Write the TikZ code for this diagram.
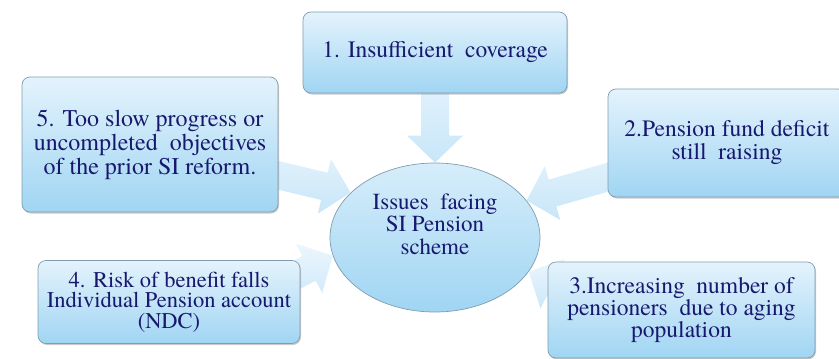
\documentclass[tikz,border=0pt]{standalone}
\usepackage{fontspec}
\setmainfont{TeX Gyre Termes}
\usetikzlibrary{calc,shapes.geometric,shadows}
\pgfdeclarelayer{back}
\pgfdeclarelayer{mid}
\pgfsetlayers{back,mid,main}
\definecolor{txtblue}{RGB}{24,24,110}
\definecolor{boxline}{RGB}{128,156,176}
\definecolor{boxtop}{RGB}{228,243,252}
\definecolor{boxbot}{RGB}{160,213,243}
\definecolor{arrtop}{RGB}{236,246,253}
\definecolor{arrbot}{RGB}{200,230,248}
\tikzset{
  issuebox/.style={draw=boxline, line width=0.7pt, rounded corners=8pt,
    top color=boxtop, bottom color=boxbot, align=center, text=txtblue,
    inner sep=0pt,
    drop shadow={shadow xshift=1pt, shadow yshift=-1.5pt, opacity=0.45, fill=black!45}},
  arrowfill/.style={top color=arrtop, bottom color=arrbot, draw=none}
}
% block arrow from #1 to the tip #2
\newcommand{\issuearrow}[2]{%
  \coordinate (hb) at ($(#2)!27pt!(#1)$);
  \shade[arrowfill] ($(#1)!14pt!90:(#2)$) -- ($(hb)!14pt!90:(#2)$) -- ($(hb)!28pt!90:(#2)$)
    -- (#2) -- ($(hb)!28pt!-90:(#2)$) -- ($(hb)!14pt!-90:(#2)$) -- ($(#1)!14pt!-90:(#2)$) -- cycle;}

\begin{document}
\begin{tikzpicture}[x=1pt, y=-1pt, font={\rmfamily\fontsize{23.5}{24}\selectfont}]

	\useasboundingbox (0,0) rectangle (839,359);

	\begin{pgfonlayer}{back}
		\node[ellipse, draw=boxline, line width=0.7pt, top color=boxtop!80!boxbot, bottom color=boxbot,
			minimum width=210pt, minimum height=149pt, inner sep=0pt] (issue) at (435,237.5) {};
	\end{pgfonlayer}
	\node[text=txtblue, align=center, font={\rmfamily\fontsize{23}{22.5}\selectfont}] (issuetext) at (435,224) {Issues\ \ facing\\SI Pension\\scheme};

	\node[issuebox, minimum width=264pt, minimum height=81pt] (coverage) at (435,52.5) {1. Insufficient\ \ coverage};
	\node[issuebox, minimum width=256pt, minimum height=135pt, font={\rmfamily\fontsize{24}{24}\selectfont}] (progress) at (150,144.5)
		{5. Too slow progress or\\uncompleted\ \ objectives\\of the prior SI reform.};
	\node[issuebox, minimum width=238pt, minimum height=108pt, font={\rmfamily\fontsize{23.5}{23}\selectfont}] (deficit) at (727,143)
		{2.Pension fund deficit\\still\ \ raising};
	\node[issuebox, minimum width=262pt, minimum height=83pt, font={\rmfamily\fontsize{22.5}{20.5}\selectfont}] (ndc) at (169,302)
		{4. Risk of benefit falls\\Individual Pension account\\(NDC)};
	\node[issuebox, minimum width=267pt, minimum height=96pt, font={\rmfamily\fontsize{23.5}{20.5}\selectfont}] (pensioners) at (681.5,310)
		{3.Increasing\ \ number of\\pensioners\ \ due to aging\\population};

	\coordinate (ndcstart) at (250,300);
	\coordinate (penstart) at (590,302);

	\begin{pgfonlayer}{mid}
		\issuearrow{coverage}{issue.north}
		\issuearrow{progress}{issue.152}
		\issuearrow{deficit}{issue.22}
		\issuearrow{ndcstart}{issue.190}
		\issuearrow{penstart}{issue.340}
	\end{pgfonlayer}

\end{tikzpicture}
\end{document}
